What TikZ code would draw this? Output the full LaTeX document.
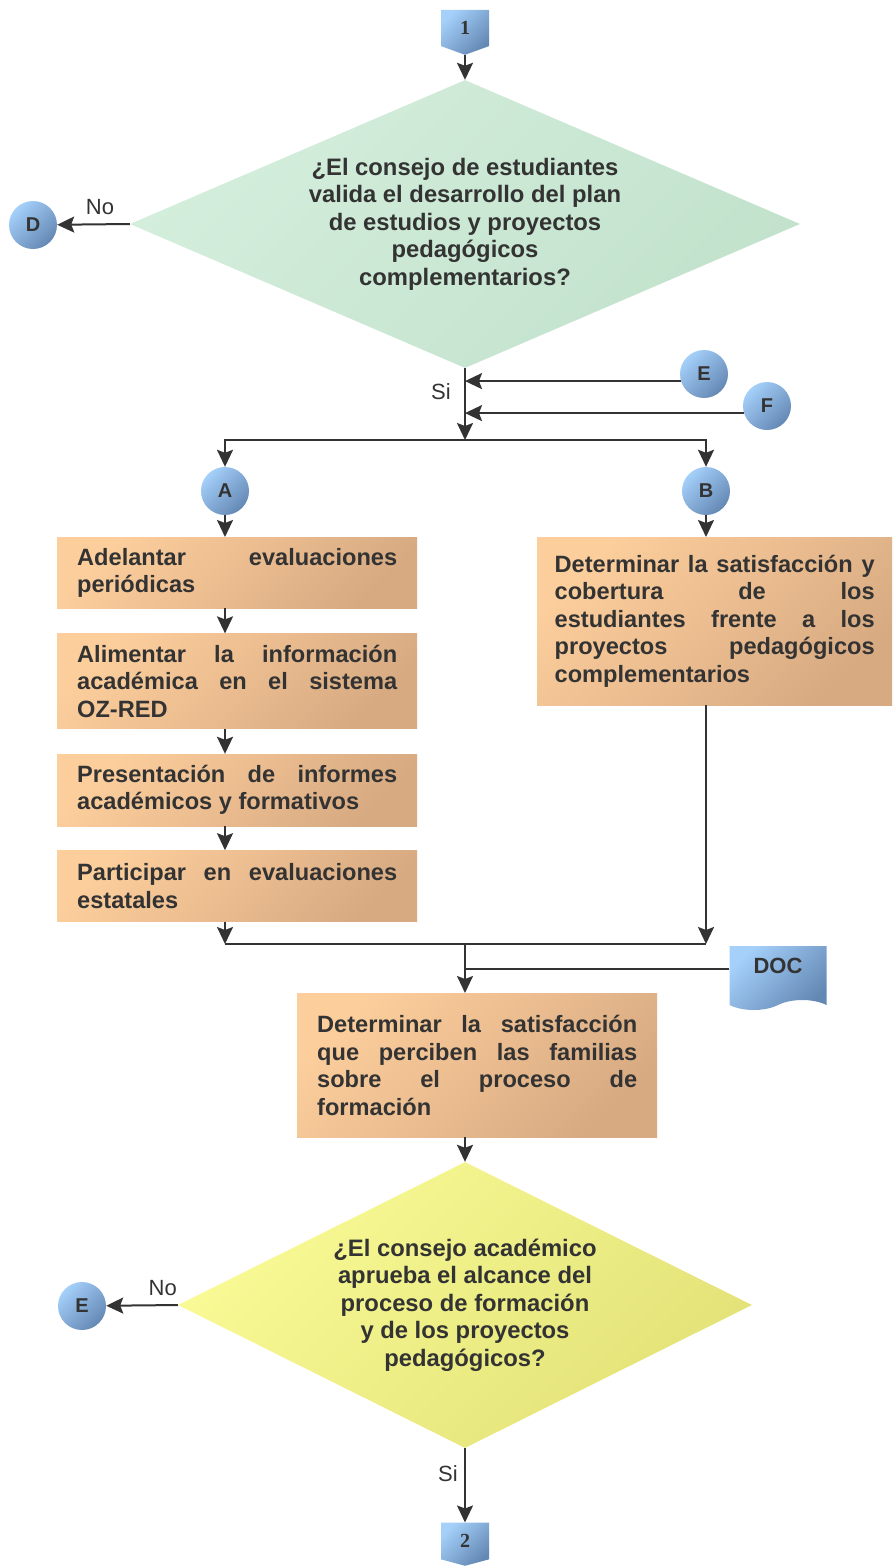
\documentclass[tikz,border=0pt]{standalone}
\usepackage{fontspec}
\setmainfont{Liberation Sans}
\newfontfamily\numfont{Liberation Serif}
\usetikzlibrary{arrows.meta,shapes.geometric,shapes.symbols,positioning,calc}

\definecolor{ink}{RGB}{51,51,51}
\definecolor{boxlt}{RGB}{252,206,156}
\definecolor{boxdk}{RGB}{216,170,130}
\definecolor{grnlt}{RGB}{212,238,220}
\definecolor{grndk}{RGB}{194,226,204}
\definecolor{yellt}{RGB}{250,250,150}
\definecolor{yeldk}{RGB}{226,226,120}
\definecolor{blult}{RGB}{164,208,250}
\definecolor{bludk}{RGB}{100,136,180}

\begin{document}
\begin{tikzpicture}[
    x=1pt,y=-1pt,
    node distance=25pt,
    box/.style={rectangle,top color=boxlt,bottom color=boxdk,shading angle=45,minimum width=360pt,text width=320pt,inner sep=0pt,align=justify,font=\fontsize{23.6}{27.5}\selectfont\bfseries,text=ink},
    dec/.style={diamond,inner sep=0pt,align=center,font=\fontsize{23.8}{27.5}\selectfont\bfseries,text=ink},
    conn/.style={circle,minimum size=48pt,inner sep=0pt,top color=blult,bottom color=bludk,shading angle=45,font=\fontsize{20}{20}\selectfont\bfseries,text=ink},
    flag/.style={signal,signal to=south,inner sep=0pt,top color=blult,bottom color=bludk,shading angle=45,font=\numfont\fontsize{20}{20}\selectfont\bfseries,text=ink},
    arrow/.style={-{Stealth[length=17pt,width=16pt,inset=3pt]},line width=2pt,ink},
    line/.style={line width=2pt,ink},
    lbl/.style={font=\fontsize{22}{22}\selectfont,text=ink},
]
\useasboundingbox (0,0) rectangle (892,1566);

\node[flag,minimum width=48pt,minimum height=38pt,signal pointer angle=140] (c1) at (465,28) {1};
\node[dec,shape aspect=2.33,minimum width=670pt,minimum height=288pt,top color=grnlt,bottom color=grndk,shading angle=45] (d1) at (465,224)
  {¿El consejo de estudiantes\\valida el desarrollo del plan\\de estudios y proyectos\\pedagógicos\\complementarios?};
\node[conn] (cD) at (33,225) {D};
\node[conn] (cE) at (704,374) {E};
\node[conn] (cF) at (767,406) {F};
\coordinate (split) at (465,440);
\node[conn] (cA) at (225,491) {A};
\node[conn] (cB) at (706,491) {B};

\node[box,minimum height=71pt,anchor=north west] (b1) at (57,537) {Adelantar evaluaciones\linebreak periódicas};
\node[box,minimum height=95pt,below=of b1] (b2) {Alimentar la información\linebreak académica en el sistema\linebreak OZ-RED};
\node[box,minimum height=72pt,below=of b2] (b3) {Presentación de informes\linebreak académicos y formativos};
\node[box,minimum height=71pt,below=24pt of b3] (b4) {Participar en evaluaciones\linebreak estatales};
\node[box,minimum width=355pt,minimum height=168pt,anchor=north west] (bB) at (537,537)
  {Determinar la satisfacción y\linebreak cobertura de los\linebreak estudiantes frente a los\linebreak proyectos pedagógicos\linebreak complementarios};

\coordinate (join) at (465,944);
\node[tape,tape bend top=none,tape bend height=10pt,minimum width=97pt,minimum height=64pt,inner sep=0pt,top color=blult,bottom color=bludk,shading angle=45,font=\fontsize{22}{22}\selectfont\bfseries,text=ink,text depth=14pt] (doc) at (778,973) {DOC};
\coordinate (docin) at ($(doc.north west)+(0,23)$);
\node[box,minimum height=144pt,anchor=north west] (b5) at (297,993)
  {Determinar la satisfacción\linebreak que perciben las familias\linebreak sobre el proceso de\linebreak formación};

\node[dec,shape aspect=2.0,minimum width=574pt,minimum height=286pt,top color=yellt,bottom color=yeldk,shading angle=45] (d2) at (465,1305)
  {¿El consejo académico\\aprueba el alcance del\\proceso de formación\\y de los proyectos\\pedagógicos?};
\node[conn] (cE2) at (82,1306) {E};
\node[flag,minimum width=48pt,minimum height=38pt,signal pointer angle=150] (c2) at (465,1541) {2};

% connectors
\draw[arrow] (c1.south) -- (d1.north);
\draw[arrow] (d1.west) -- (cD) node[lbl,pos=0.41,above=5pt] {No};
\draw[arrow] (d1.south) -- (split) node[lbl,pos=0.33,left=10pt] {Si};
\draw[arrow] (cE.197) -- (cE.197 -| d1.south);
\draw[arrow] (cF.197) -- (cF.197 -| d1.south);
\draw[arrow] (split) -| (cA.north);
\draw[arrow] (split) -| (cB.north);
\draw[arrow] (cA.south) -- (cA |- b1.north);
\draw[arrow] (cA |- b1.south) -- (cA |- b2.north);
\draw[arrow] (cA |- b2.south) -- (cA |- b3.north);
\draw[arrow] (cA |- b3.south) -- (cA |- b4.north);
\draw[arrow] (cB.south) -- (cB |- bB.north);
\draw[arrow] (cA |- b4.south) -- (cA |- join);
\draw[arrow] (cB |- bB.south) -- (cB |- join);
\draw[line] (cA |- join) -- (cB |- join);
\draw[line] (docin) -- (docin -| join);
\draw[arrow] (join) -- (join |- b5.north);
\draw[arrow] (join |- b5.south) -- (d2.north);
\draw[arrow] (d2.west) -- (cE2) node[lbl,pos=0.21,above=5pt] {No};
\draw[arrow] (d2.south) -- (c2.north) node[lbl,pos=0.34,left=3pt] {Si};
\end{tikzpicture}
\end{document}
